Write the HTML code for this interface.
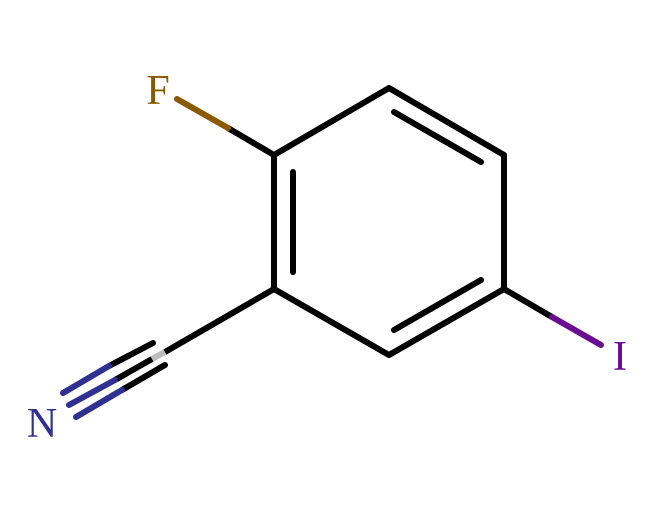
<!DOCTYPE html>
<html><head><style>html,body{margin:0;padding:0;background:#fff;}svg{display:block}</style></head>
<body>
<svg width="663" height="510" viewBox="0 0 663 510" xmlns="http://www.w3.org/2000/svg">
<g stroke-width="6" stroke-linecap="round" fill="none">
<polyline points="389,88 504,155 504,289 389,355 274,289 274,155 389,88" stroke="#000" stroke-linejoin="round"/>
<line x1="293" y1="172" x2="293" y2="272" stroke="#000"/>
<line x1="394" y1="112" x2="481" y2="162" stroke="#000"/>
<line x1="394" y1="330" x2="481" y2="280" stroke="#000"/>
<line x1="274" y1="155" x2="228" y2="128" stroke="#000"/>
<line x1="228" y1="128" x2="177" y2="99" stroke="#8B5A00"/>
<line x1="504" y1="289" x2="552" y2="317" stroke="#000"/>
<line x1="552" y1="317" x2="601" y2="345" stroke="#6A0D91"/>
<line x1="274" y1="289" x2="165" y2="352" stroke="#000"/>
<line x1="165" y1="352" x2="152" y2="359" stroke="#bbb" stroke-linecap="butt"/>
<line x1="152" y1="359" x2="115" y2="380" stroke="#000" stroke-linecap="butt"/>
<line x1="115" y1="380" x2="69" y2="405" stroke="#2E3192"/>
<line x1="153" y1="343" x2="109" y2="366" stroke="#000"/>
<line x1="109" y1="366" x2="63" y2="393" stroke="#2E3192"/>
<line x1="165" y1="365" x2="122" y2="390" stroke="#000"/>
<line x1="122" y1="390" x2="76" y2="417" stroke="#2E3192"/>
</g>
<g font-family="Liberation Serif, serif" font-size="42">
<text x="158" y="104" fill="#8B5A00" text-anchor="middle">F</text>
<text x="620" y="370" fill="#6A0D91" text-anchor="middle">I</text>
<text x="42" y="437" fill="#2E3192" text-anchor="middle">N</text>
</g>
</svg>
</body></html>
